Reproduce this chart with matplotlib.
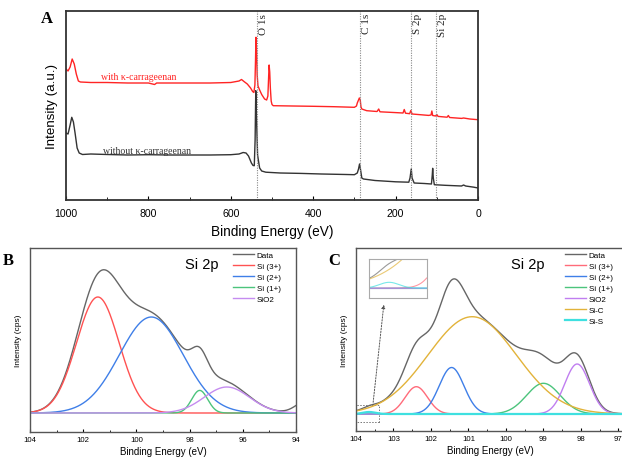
import numpy as np
import matplotlib
matplotlib.use('Agg')
import matplotlib.pyplot as plt
from matplotlib.patches import Rectangle

plt.rcParams['font.family'] = ['Liberation Sans', 'DejaVu Sans']

# ---- panel A: XPS survey (binding energy eV, intensity a.u.) ----
red_ev = [1000, 995, 990, 985, 980, 975, 970, 965, 940, 900, 850, 800, 790, 785, 780, 700, 650, 600,
          580, 574, 568, 560, 552, 547, 544, 541.5, 540, 539, 537.5, 536, 534, 530, 525, 518, 513, 510,
          508, 507, 505.5, 504, 502, 500, 497, 450, 400, 350, 300, 295, 293, 291, 288, 286, 284, 282,
          275, 270, 245, 241, 238, 200, 182, 179, 176, 166, 163, 160, 120, 114, 112, 110, 103, 100, 97,
          75, 72, 69, 40, 35, 20, 0]
red_int = [131, 129, 133, 141, 136, 126, 119, 118, 117.5, 117.5, 117, 117, 116, 115.5, 117, 117, 117, 117.5,
           119, 120.5, 118.5, 116, 112, 108.5, 107.5, 115, 140, 162.7, 150, 125, 114, 110, 105.5, 101, 100, 104,
           125, 135, 128, 112, 99, 95.5, 94.3, 94, 93.7, 93.3, 92.7, 94, 97, 99, 102, 100.5, 93, 91,
           90, 89.3, 88.5, 91, 88.2, 87.4, 87, 90.5, 86.8, 86.3, 89.5, 86, 84.6, 85, 89, 84.5, 84, 85.5, 83.6,
           82.8, 84.5, 82.5, 81.6, 82, 81, 80.3]

black_ev = [1000, 995, 990, 986, 982, 978, 973, 968, 960, 940, 900, 850, 800, 750, 700, 650, 600, 580, 570,
            563, 557, 550, 546, 543, 541, 539.4, 537.5, 535, 532, 530, 525, 515, 480, 430, 380, 320, 300,
            293, 290, 287.5, 285, 282, 278, 250, 200, 168, 165, 162, 160, 155, 130, 113, 111, 110, 108.5,
            106, 80, 40, 35, 30, 10, 0]
black_int = [67, 66, 75, 82.7, 78, 67, 52, 47, 45.5, 46, 45.5, 45, 45.3, 45, 45, 45, 45.3, 46, 47.5,
             47, 44, 37, 34.5, 34.3, 60, 109.3, 80, 45, 37, 32, 29, 27.8, 27, 26.6, 26, 25.5, 25.3,
             27, 31, 36, 30, 22, 21, 19.5, 18.2, 17.8, 22, 31, 22, 17, 16.5, 16, 25, 31.7, 22,
             15.3, 14.7, 14, 15, 14, 12.8, 12]

peak_names = ['O 1s', 'C 1s', 'S 2p', 'Si 2p']
peak_pos = [537, 287, 162, 101]

# ---- panel B: Si 2p fit components ----
b_labels = ['Si (3+)', 'Si (2+)', 'Si (1+)', 'SiO2']
b_centers = [101.45, 99.44, 97.62, 96.6]
b_heights = [116, 96, 22.6, 26]
b_sigmas = [0.8, 1.2, 0.3, 0.85]
b_colors = ['#ff5252', '#3f7fe8', '#4cc47c', '#c58cf0']
b_bg = (93.6, 12, 0.4)  # rising background at the low-energy edge

# ---- panel C: Si 2p fit components ----
c_labels = ['Si (3+)', 'Si (2+)', 'Si (1+)', 'SiO2', 'Si-C', 'Si-S']
c_centers = [102.39, 101.45, 99.0, 98.1, 100.9, 103.65]
c_heights = [27.3, 46.5, 30.7, 50, 97.3, 2.0]
c_sigmas = [0.3, 0.33, 0.45, 0.33, 1.18, 0.17]
c_colors = ['#ff6b7a', '#3f7fe8', '#4cc47c', '#c07ef0', '#e2b33a', '#3fe0e0']


def gauss(x, c, h, s):
    return h * np.exp(-(x - c) ** 2 / (2 * s ** 2))


fig = plt.figure(figsize=(6.22, 4.60), dpi=100)

# ================= A =================
ax = fig.add_axes([66 / 622, 259 / 460, 412 / 622, 189 / 460])
ax.plot(red_ev, red_int, color='#ff2424', lw=1.0)
ax.plot(black_ev, black_int, color='#333333', lw=1.0)
ax.set_xlim(1000, 0)
ax.set_ylim(0, 189)
ax.set_xticks(range(0, 1001, 200))
ax.set_xticks(range(100, 1000, 200), minor=True)
ax.set_yticks([])
ax.tick_params(axis='x', which='major', direction='in', length=3, labelsize=7.6, pad=6)
ax.tick_params(axis='x', which='minor', direction='in', length=2)
for sp in ax.spines.values():
    sp.set_linewidth(1.3)
    sp.set_color('#333333')
ax.set_xlabel('Binding Energy (eV)', fontsize=9.8, labelpad=4)
ax.set_ylabel('Intensity (a.u.)', fontsize=9.6, labelpad=6)
for name, pos in zip(peak_names, peak_pos):
    ax.axvline(pos, color='#888888', lw=0.8, ls=(0, (1, 1.2)))
    ax.text(pos - 5, 187, name, rotation=90, ha='left', va='top', fontsize=8,
            family='Liberation Serif', color='#222222')
ax.text(915, 124, 'with \u03ba-carrageenan', color='#ff2424', fontsize=7,
        family='Liberation Serif', va='center', ha='left')
ax.text(910, 49, 'without \u03ba-carrageenan', color='#333333', fontsize=7,
        family='Liberation Serif', va='center', ha='left')
fig.text(47 / 622, 1 - 19 / 460, 'A', fontsize=12, fontweight='bold', family='Liberation Serif',
         ha='center', va='center')


def style_fit_axes(ax, lo, hi, major, minor):
    ax.set_xlim(lo, hi)
    ax.set_xticks(major)
    ax.set_xticks(minor, minor=True)
    ax.set_yticks([])
    ax.tick_params(axis='x', which='major', direction='in', length=2.5, labelsize=5.6, pad=3)
    ax.tick_params(axis='x', which='minor', direction='in', length=1.5)
    for sp in ax.spines.values():
        sp.set_linewidth(1.0)
        sp.set_color('#555555')
    ax.set_xlabel('Binding Energy (eV)', fontsize=7, labelpad=2)
    ax.set_ylabel('Intensity (cps)', fontsize=6, labelpad=6)


# ================= B =================
axb = fig.add_axes([30 / 622, 27 / 460, 266 / 622, 184 / 460])
xb = np.linspace(104, 94, 600)
comps_b = [gauss(xb, c, h, s) for c, h, s in zip(b_centers, b_heights, b_sigmas)]
data_b = np.sum(comps_b, axis=0) + gauss(xb, *b_bg)
axb.plot(xb, data_b, color='#666666', lw=1.0, label='Data')
for yv, lab, col in zip(comps_b, b_labels, b_colors):
    axb.plot(xb, yv, color=col, lw=1.0, label=lab)
axb.set_ylim(-19, 165)
style_fit_axes(axb, 104, 94, range(94, 105, 2), range(95, 104, 2))
axb.text(0.647, 0.915, 'Si 2p', transform=axb.transAxes, fontsize=10.5, ha='center', va='center')
axb.legend(loc='upper right', bbox_to_anchor=(0.955, 1.0), frameon=False, fontsize=5.8,
           handlelength=2.6, handletextpad=0.4, labelspacing=0.42, borderaxespad=0.2, borderpad=0.2)
fig.text(8.5 / 622, 1 - 261 / 460, 'B', fontsize=12, fontweight='bold', family='Liberation Serif',
         ha='center', va='center')

# ================= C =================
axc = fig.add_axes([356 / 622, 28 / 460, 268 / 622, 183 / 460])
xc = np.linspace(104, 96.85, 600)
comps_c = [gauss(xc, c, h, s) for c, h, s in zip(c_centers, c_heights, c_sigmas)]
data_c = np.sum(comps_c, axis=0)
axc.plot(xc, data_c, color='#666666', lw=1.0, label='Data')
for yv, lab, col in zip(comps_c, c_labels, c_colors):
    axc.plot(xc, yv, color=col, lw=1.6 if lab == 'Si-S' else 1.0, label=lab)
axc.set_ylim(-17, 166)
style_fit_axes(axc, 104, 96.85, range(97, 105), np.arange(97.5, 104, 1.0))
axc.text(0.642, 0.915, 'Si 2p', transform=axc.transAxes, fontsize=10.5, ha='center', va='center')
axc.legend(loc='upper right', bbox_to_anchor=(0.97, 1.0), frameon=False, fontsize=5.8,
           handlelength=2.6, handletextpad=0.4, labelspacing=0.42, borderaxespad=0.2, borderpad=0.2)
fig.text(334 / 622, 1 - 261 / 460, 'C', fontsize=12, fontweight='bold', family='Liberation Serif',
         ha='center', va='center')

# zoom box, arrow and inset
axc.add_patch(Rectangle((103.38, -7.5), 0.62, 16.5, fill=False, ec='#777777', lw=0.7, ls=(0, (1.5, 1.5))))
axc.annotate('', xy=(103.25, 112), xytext=(103.55, 9),
             arrowprops=dict(arrowstyle='-|>', color='#555555', lw=0.7, ls=(0, (1.5, 1.5)),
                             mutation_scale=5))
ins = axc.inset_axes([0.0485, 0.725, 0.215, 0.215])
xi = np.linspace(104, 103.0, 200)
comps_i = [gauss(xi, c, h, s) for c, h, s in zip(c_centers, c_heights, c_sigmas)]
ins.plot(xi, np.sum(comps_i, axis=0), color='#999999', lw=0.8)
for yv, col in zip(comps_i, c_colors):
    ins.plot(xi, yv, color=col, lw=0.8, alpha=0.7)
ins.set_xlim(104, 103.0)
ins.set_ylim(-3.5, 10)
ins.set_xticks([])
ins.set_yticks([])
for sp in ins.spines.values():
    sp.set_color('#aaaaaa')
    sp.set_linewidth(0.8)

fig.savefig('out.png', dpi=100)
